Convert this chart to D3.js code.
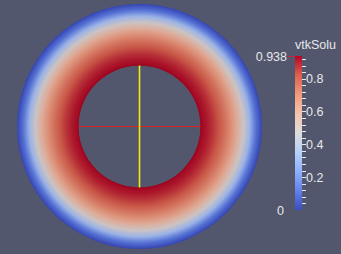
<!DOCTYPE html>
<html>
<head>
<meta charset="utf-8">
<script src="https://cdn.jsdelivr.net/npm/d3@7"></script>
<style>
  html, body { margin: 0; padding: 0; background: #52576e; }
  svg { display: block; }
  text { font-family: "Liberation Sans", Arial, sans-serif; fill: #e8e8e8; }
</style>
</head>
<body>
<svg id="chart" width="341" height="254"></svg>
<script>
// radial samples: fraction of the way from inner edge to outer edge -> vtkSolu
const radialPos = [0, 0.1, 0.2, 0.3, 0.4, 0.5, 0.6, 0.7, 0.8, 0.9, 1];
const radialVal = [0.938, 0.91, 0.87, 0.82, 0.76, 0.69, 0.6, 0.49, 0.32, 0.11, 0];

// cool-to-warm colour map stops
const cmapPos = [0, 0.125, 0.25, 0.375, 0.5, 0.625, 0.75, 0.875, 1];
const cmapColors = ['#3b4cc0', '#6282ea', '#8db0fe', '#b8d0f9', '#dddddd',
                    '#f5c4ad', '#f49a7b', '#de604d', '#b40426'];

const valueMin = 0, valueMax = 0.938;
const majorTicks = [0.2, 0.4, 0.6, 0.8];
const minorTicks = [0.04, 0.08, 0.12, 0.16, 0.2, 0.24, 0.28, 0.32, 0.36, 0.4, 0.44,
                    0.48, 0.52, 0.56, 0.6, 0.64, 0.68, 0.72, 0.76, 0.8, 0.84, 0.88, 0.92];
const legendTitle = 'vtkSolu';

const svg = d3.select('#chart');
const defs = svg.append('defs');

const color = d3.scaleLinear()
    .domain(cmapPos.map(p => valueMin + p * (valueMax - valueMin)))
    .range(cmapColors)
    .interpolate(d3.interpolateRgb);

// surface colours come out a little dimmer than the legend bar
const shade = c => {
    const k = d3.rgb(c);
    return d3.rgb(k.r * 0.9, k.g * 0.9, k.b * 0.92).formatHex();
};

// annulus geometry
const cx = 139.5, cy = 126.5, rOuter = 122.5, rInner = 61;
const rScale = d3.scaleLinear().domain([0, 1]).range([rInner, rOuter]);

const rg = defs.append('radialGradient')
    .attr('id', 'ring')
    .attr('gradientUnits', 'userSpaceOnUse')
    .attr('cx', 0).attr('cy', 0).attr('r', rOuter);
rg.selectAll('stop').data(radialPos).enter().append('stop')
    .attr('offset', d => rScale(d) / rOuter)
    .attr('stop-color', (d, i) => shade(color(radialVal[i])));

const ring = svg.append('g').attr('transform', `translate(${cx},${cy})`);
const arc = d3.arc().innerRadius(rInner).outerRadius(rOuter).startAngle(0).endAngle(2 * Math.PI);
ring.append('path')
    .attr('d', arc())
    .attr('fill', 'url(#ring)');

// thin dark-red rim on inner edge
ring.append('circle')
    .attr('r', rInner + 0.6)
    .attr('fill', 'none').attr('stroke', '#9a0a1e').attr('stroke-width', 1.2);

// cross lines inside the hole
ring.append('line')
    .attr('x1', -rInner).attr('x2', rInner)
    .attr('y1', 0).attr('y2', 0)
    .attr('stroke', '#dc2222').attr('stroke-width', 1.2);
ring.append('line')
    .attr('x1', 0).attr('x2', 0)
    .attr('y1', -rInner).attr('y2', rInner)
    .attr('stroke', '#f2ea10').attr('stroke-width', 1.6);

// colour legend
const barX = 295, barW = 7, barTop = 56, barBottom = 210;
const y = d3.scaleLinear().domain([valueMin, valueMax]).range([barBottom, barTop]);

const lg = defs.append('linearGradient')
    .attr('id', 'bar').attr('x1', 0).attr('x2', 0).attr('y1', 1).attr('y2', 0);
lg.selectAll('stop').data(cmapPos).enter().append('stop')
    .attr('offset', d => d)
    .attr('stop-color', (d, i) => cmapColors[i]);

svg.append('rect')
    .attr('x', barX).attr('y', barTop)
    .attr('width', barW).attr('height', barBottom - barTop)
    .attr('fill', 'url(#bar)');

svg.append('g').selectAll('line').data(minorTicks).enter().append('line')
    .attr('x1', barX + barW).attr('x2', barX + barW + 4)
    .attr('y1', d => Math.round(y(d)) + 0.5).attr('y2', d => Math.round(y(d)) + 0.5)
    .attr('stroke', '#e8e8e8').attr('stroke-width', 1);

svg.append('g').selectAll('text').data(majorTicks).enter().append('text')
    .attr('x', barX + barW + 4).attr('y', d => y(d) + 4.5)
    .attr('font-size', 12.5)
    .text(d => d3.format('.1f')(d));

// range labels
svg.append('line')
    .attr('x1', barX - 7).attr('x2', barX).attr('y1', barTop + 0.5).attr('y2', barTop + 0.5)
    .attr('stroke', '#c8283c').attr('stroke-width', 1);
svg.append('text')
    .attr('x', barX - 8).attr('y', y(valueMax) + 4.5)
    .attr('text-anchor', 'end').attr('font-size', 12.5)
    .text(valueMax);
svg.append('text')
    .attr('x', barX - 11).attr('y', y(valueMin) + 4.5)
    .attr('text-anchor', 'end').attr('font-size', 12.5)
    .text(valueMin);

svg.append('text')
    .attr('x', barX).attr('y', 49)
    .attr('font-size', 12.5)
    .text(legendTitle);
</script>
</body>
</html>
